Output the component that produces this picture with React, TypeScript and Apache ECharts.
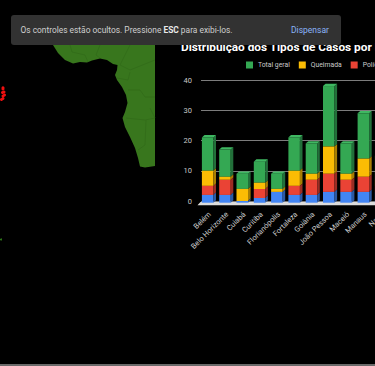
import React, { useEffect, useRef } from "react";
import * as echarts from "echarts";

const titleText = "Distribuição dos Tipos de Casos por Município";
const cities = ["Belém", "Belo Horizonte", "Cuiabá", "Curitiba", "Florianópolis", "Fortaleza", "Goiânia", "João Pessoa", "Maceió", "Manaus", "Natal", "Palmas"];
const blue = [2, 2, 0, 1, 3, 2, 2, 3, 3, 3, 3];
const red = [3, 5, 0, 3, 0, 3, 5, 6, 4, 5, 2];
const yellow = [5, 1, 4, 2, 1, 5, 2, 9, 2, 6, 2];
const green = [11, 9, 5, 7, 5, 11, 10, 20, 10, 15, 8];
const yTicks = { min: 0, max: 40, interval: 10 };

const coast: number[][] = [[53, 45], [58, 53], [65, 60], [73, 63.5], [80, 62], [87, 62.5], [92, 60.5], [100, 58.5], [107, 60], [113, 64], [117.5, 65], [117, 70], [115, 75], [117, 80], [122, 87], [126, 95], [127.5, 103], [125, 112], [122.5, 118], [125, 127], [130, 137], [135, 148], [138, 158], [140, 166.5], [145, 167.5], [155, 166], [155, 45]];
const borders: number[][][] = [
  [[70, 45], [72, 52], [85, 55], [88, 62]],
  [[100, 45], [96, 55], [100, 58]],
  [[130, 45], [125, 55], [120, 65], [130, 70], [150, 62], [155, 60]],
  [[117, 78], [128, 80], [130, 72]],
  [[128, 90], [140, 90], [145, 97], [155, 97]],
  [[126, 118], [145, 120], [155, 118], [150, 108]],
  [[146, 120], [145, 145], [138, 150]],
];
const islands: number[][] = [[3, 89], [4, 92], [4.5, 95], [3, 96], [1.5, 99.5], [3, 98.5], [2.5, 92.5], [3, 87.8]];

const sideShade: Record<string, string> = { "#34a853": "#22703a", "#fbbc04": "#a87e03", "#ea4335": "#9c2d24", "#4285f4": "#2c59a3" };

function layer(name: string, color: string, own: number[], below: number[][], isBase: boolean, isTop: boolean) {
  const rows = own.map((v, i) => {
    const base = below.reduce((s, a) => s + a[i], 0);
    return [i, base, base + v];
  });
  return {
    type: "custom",
    name,
    clip: false,
    z: 3,
    itemStyle: { color },
    encode: { x: 0, y: [1, 2] },
    data: rows,
    renderItem: (_p: any, api: any) => {
      const lo = api.value(1);
      const hi = api.value(2);
      if (hi === lo && !isBase) return null;
      const cx = api.coord([api.value(0), 0])[0] - 2;
      const y1 = api.coord([api.value(0), hi])[1];
      const y2 = api.coord([api.value(0), lo])[1] + (isBase ? 1.7 : 0);
      const w = 11.5;
      const dx = 2.6;
      const dy = 2.4;
      const xl = cx - w / 2;
      const xr = xl + w;
      const children: any[] = [
        { type: "rect", shape: { x: xl, y: y1, width: w, height: y2 - y1 }, style: { fill: color } },
        { type: "polygon", shape: { points: [[xr, y1], [xr + dx, y1 - dy], [xr + dx, y2 - dy], [xr, y2]] }, style: { fill: sideShade[color] } },
      ];
      if (isTop) children.push({ type: "polygon", shape: { points: [[xl, y1], [xl + dx, y1 - dy], [xr + dx, y1 - dy], [xr, y1]] }, style: { fill: "#3fb862" } });
      return { type: "group", children };
    },
  };
}

export default function App() {
  const ref = useRef<HTMLDivElement>(null);
  useEffect(() => {
    document.body.style.margin = "0";
    document.body.style.background = "#000";
    document.body.style.overflow = "hidden";
    const chart = echarts.init(ref.current!, undefined, { renderer: "svg" });
    const font = "Roboto";
    chart.setOption({
      animation: false,
      backgroundColor: "#000",
      textStyle: { fontFamily: font },
      title: {
        text: titleText, left: 176, top: 36, z: 5,
        textStyle: { color: "#fff", fontSize: 11.8, fontWeight: "bold", fontFamily: font },
      },
      legend: {
        left: 241, top: 56.5, width: 600, itemWidth: 7, itemHeight: 7, itemGap: 9, icon: "rect", selectedMode: false,
        data: ["Total geral", "Queimada", "Polícia", "Outros"],
        textStyle: { color: "#ccc", fontSize: 6.8, fontFamily: font },
      },
      grid: { left: 201, top: 80, height: 121, width: 17.3 * cities.length },
      xAxis: {
        type: "category", data: cities, axisLine: { show: false }, axisTick: { show: false },
        axisLabel: { rotate: 45, interval: 0, color: "#cccccc", fontSize: 7.5, margin: 12, align: "right", verticalAlign: "middle", fontFamily: font },
      },
      yAxis: {
        type: "value", ...yTicks,
        axisLine: { show: false }, axisTick: { show: false },
        axisLabel: { color: "#c8c8c8", fontSize: 7.5, margin: 9, fontFamily: font },
        splitLine: { lineStyle: { color: "#7c7c7c", width: 1 } },
      },
      series: [
        layer("Total geral", "#34a853", green, [blue, red, yellow], false, true),
        layer("Queimada", "#fbbc04", yellow, [blue, red], false, false),
        layer("Polícia", "#ea4335", red, [blue], false, false),
        layer("Outros", "#4285f4", blue, [], true, false),
      ],
      graphic: [
        { type: "polygon", z: 1, shape: { points: coast }, style: { fill: "#38761d" } },
        ...borders.map((pts) => ({ type: "polyline", z: 1, shape: { points: pts }, style: { stroke: "#316a19", lineWidth: 0.7, fill: "none" } })),
        ...islands.map((p) => ({ type: "circle", z: 1, shape: { cx: p[0], cy: p[1], r: 1.5 }, style: { fill: "#f01010" } })),
        { type: "circle", z: 1, shape: { cx: 1, cy: 239.5, r: 1 }, style: { fill: "#2f7a1a" } },
        { type: "circle", z: 1, shape: { cx: 25.3, cy: 257.3, r: 0.5 }, style: { fill: "#555" } },
        { type: "polygon", z: 1, shape: { points: [[197.5, 205.2], [200.5, 202], [420, 202], [420, 205.2]] }, style: { fill: "#dcdcdc" } },
        { type: "rect", z: 1, shape: { x: 0, y: 364, width: 420, height: 2 }, style: { fill: "#6a6a6a" } },
        { type: "rect", z: 100, shape: { x: 11, y: 15, width: 330, height: 30, r: 3 }, style: { fill: "#323232" } },
        {
          type: "text", z: 101, x: 20.5, y: 29.7,
          style: {
            text: "{a|Os controles estão ocultos. Pressione }{b|ESC}{a| para exibi-los.}",
            verticalAlign: "middle",
            rich: {
              a: { fill: "#cfcfcf", fontSize: 8.4, fontFamily: font },
              b: { fill: "#e8e8e8", fontSize: 8.4, fontWeight: "bold", fontFamily: font },
            },
          },
        },
        { type: "text", z: 101, x: 291, y: 29.7, style: { text: "Dispensar", fill: "#8ab4f8", fontSize: 8.5, fontFamily: font, verticalAlign: "middle" } },
      ],
    });
    return () => chart.dispose();
  }, []);
  return (
    <div style={{ width: 375, height: 366, overflow: "hidden" }}>
      <div ref={ref} style={{ width: 420, height: 366 }} />
    </div>
  );
}
